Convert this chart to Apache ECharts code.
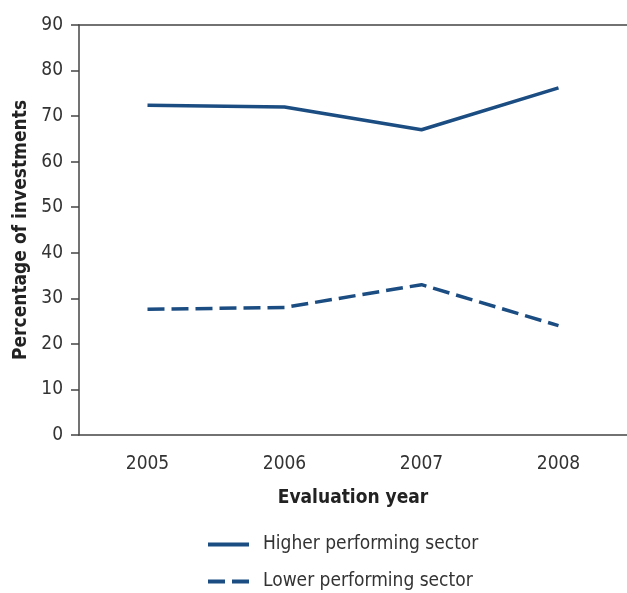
<!DOCTYPE html>
<html>
<head>
<meta charset="utf-8">
<script src="https://cdn.jsdelivr.net/npm/echarts@6/dist/echarts.min.js"></script>
<style>
  html, body { margin: 0; padding: 0; background: #fff; }
  #chart { width: 627px; height: 593px; }
</style>
</head>
<body>
<div id="chart"></div>
<script>
const years = ["2005", "2006", "2007", "2008"]
const higherSector = [72.4, 72.0, 67.0, 76.2]
const lowerSector = [27.6, 28.0, 33.0, 24.0]

const font = "'Liberation Sans Narrow', 'DejaVu Sans Condensed', sans-serif"
const lineColor = "#1b4d82"
const axisColor = "#444"

// legend icons: a solid bar and two dashes
const solidIcon = "path://M0,0H41V4H0Z"
const dashIcon = "path://M0,0H17V4H0Z M24,0H41V4H24Z"

const legendBase = {
  left: 203,
  itemWidth: 41,
  itemHeight: 4,
  textStyle: { fontFamily: font, fontSize: 19, color: "#333", padding: [0, 0, 0, 9] }
}

const myChart = echarts.init(document.getElementById("chart"))
myChart.setOption({
  backgroundColor: "#fff",
  animation: false,
  grid: { left: 79, top: 25, right: -3, bottom: 158 },
  legend: [
    Object.assign({}, legendBase, { top: 530, data: [{ name: "Higher performing sector", icon: solidIcon }] }),
    Object.assign({}, legendBase, { top: 567, data: [{ name: "Lower performing sector", icon: dashIcon }] })
  ],
  xAxis: [{
    type: "category",
    data: years,
    boundaryGap: true,
    name: "Evaluation year",
    nameLocation: "middle",
    nameGap: 54,
    nameTextStyle: { fontFamily: font, fontSize: 19, fontWeight: "bold", color: "#222" },
    axisLine: { lineStyle: { color: axisColor, width: 1.5 } },
    axisTick: { length: 10, lineStyle: { color: axisColor, width: 1.5 } },
    axisLabel: { fontFamily: font, fontSize: 19, color: "#333", margin: 20 }
  }, {
    type: "category",
    data: years,
    position: "top",
    axisLine: { lineStyle: { color: axisColor, width: 1.5 } },
    axisTick: { show: false },
    axisLabel: { show: false }
  }],
  yAxis: {
    type: "value",
    min: 0,
    max: 90,
    interval: 10,
    name: "Percentage of investments",
    nameLocation: "middle",
    nameGap: 46,
    nameTextStyle: { fontFamily: font, fontSize: 19, fontWeight: "bold", color: "#222" },
    axisLine: { show: true, lineStyle: { color: axisColor, width: 1.5 } },
    axisTick: { show: true, length: 8, lineStyle: { color: axisColor, width: 1.5 } },
    axisLabel: { fontFamily: font, fontSize: 19, color: "#333", margin: 16 },
    splitLine: { show: false }
  },
  series: [{
    name: "Higher performing sector",
    type: "line",
    data: higherSector,
    symbol: "none",
    color: lineColor,
    lineStyle: { color: lineColor, width: 3.5 }
  }, {
    name: "Lower performing sector",
    type: "line",
    data: lowerSector,
    symbol: "none",
    color: lineColor,
    lineStyle: { color: lineColor, width: 3.5, type: [17, 7] }
  }]
})
</script>
</body>
</html>
